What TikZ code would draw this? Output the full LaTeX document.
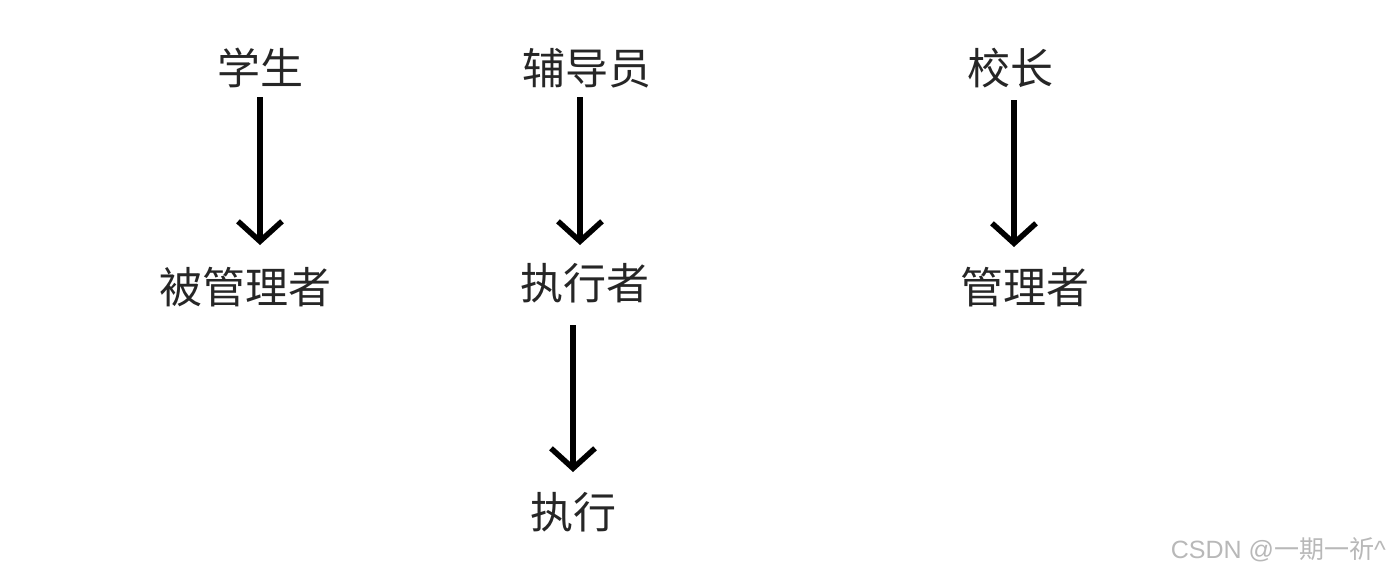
\documentclass[tikz,border=0pt]{standalone}
\usepackage{fontspec}
\setmainfont{Noto Sans CJK SC}
\newfontfamily\cjk{Noto Sans CJK SC}
\newfontfamily\wmlat{Liberation Sans}
\usetikzlibrary{arrows.meta}
\tikzset{
  lbl/.style={font=\cjk\fontsize{43}{50}\selectfont, inner sep=0pt, anchor=center, text=black!85},
  arr/.style={line width=5.5pt, -{Straight Barb[length=20pt,width=44pt,line width=5.5pt]}},
  wm/.style={font=\fontsize{25}{28}\selectfont, text=black!28, inner sep=0pt, anchor=east}
}
\begin{document}
\begin{tikzpicture}[x=1pt,y=-1pt]
\useasboundingbox (0,0) rectangle (1391,574);
\node[lbl] (xs) at (260,68) {学生};
\node[lbl] (bgl) at (245,287) {被管理者};
\node[lbl] (fdy) at (587,68) {辅导员};
\node[lbl] (zxz) at (585,283) {执行者};
\node[lbl] (zx) at (573,512) {执行};
\node[lbl] (xz) at (1010,68) {校长};
\node[lbl] (glz) at (1025,287) {管理者};
\node[wm] (mark) at (1386,550) {{\wmlat CSDN @}{\cjk 一期一祈}{\wmlat\^{}}};
\coordinate (a1s) at (260,97);
\coordinate (a2s) at (580,97);
\coordinate (a3s) at (573,325);
\coordinate (a4s) at (1014,100);
\draw[arr] (a1s) -- (a1s |- 0,245);
\draw[arr] (a2s) -- (a2s |- 0,245);
\draw[arr] (a3s) -- (a3s |- 0,472);
\draw[arr] (a4s) -- (a4s |- 0,247);
\end{tikzpicture}
\end{document}
